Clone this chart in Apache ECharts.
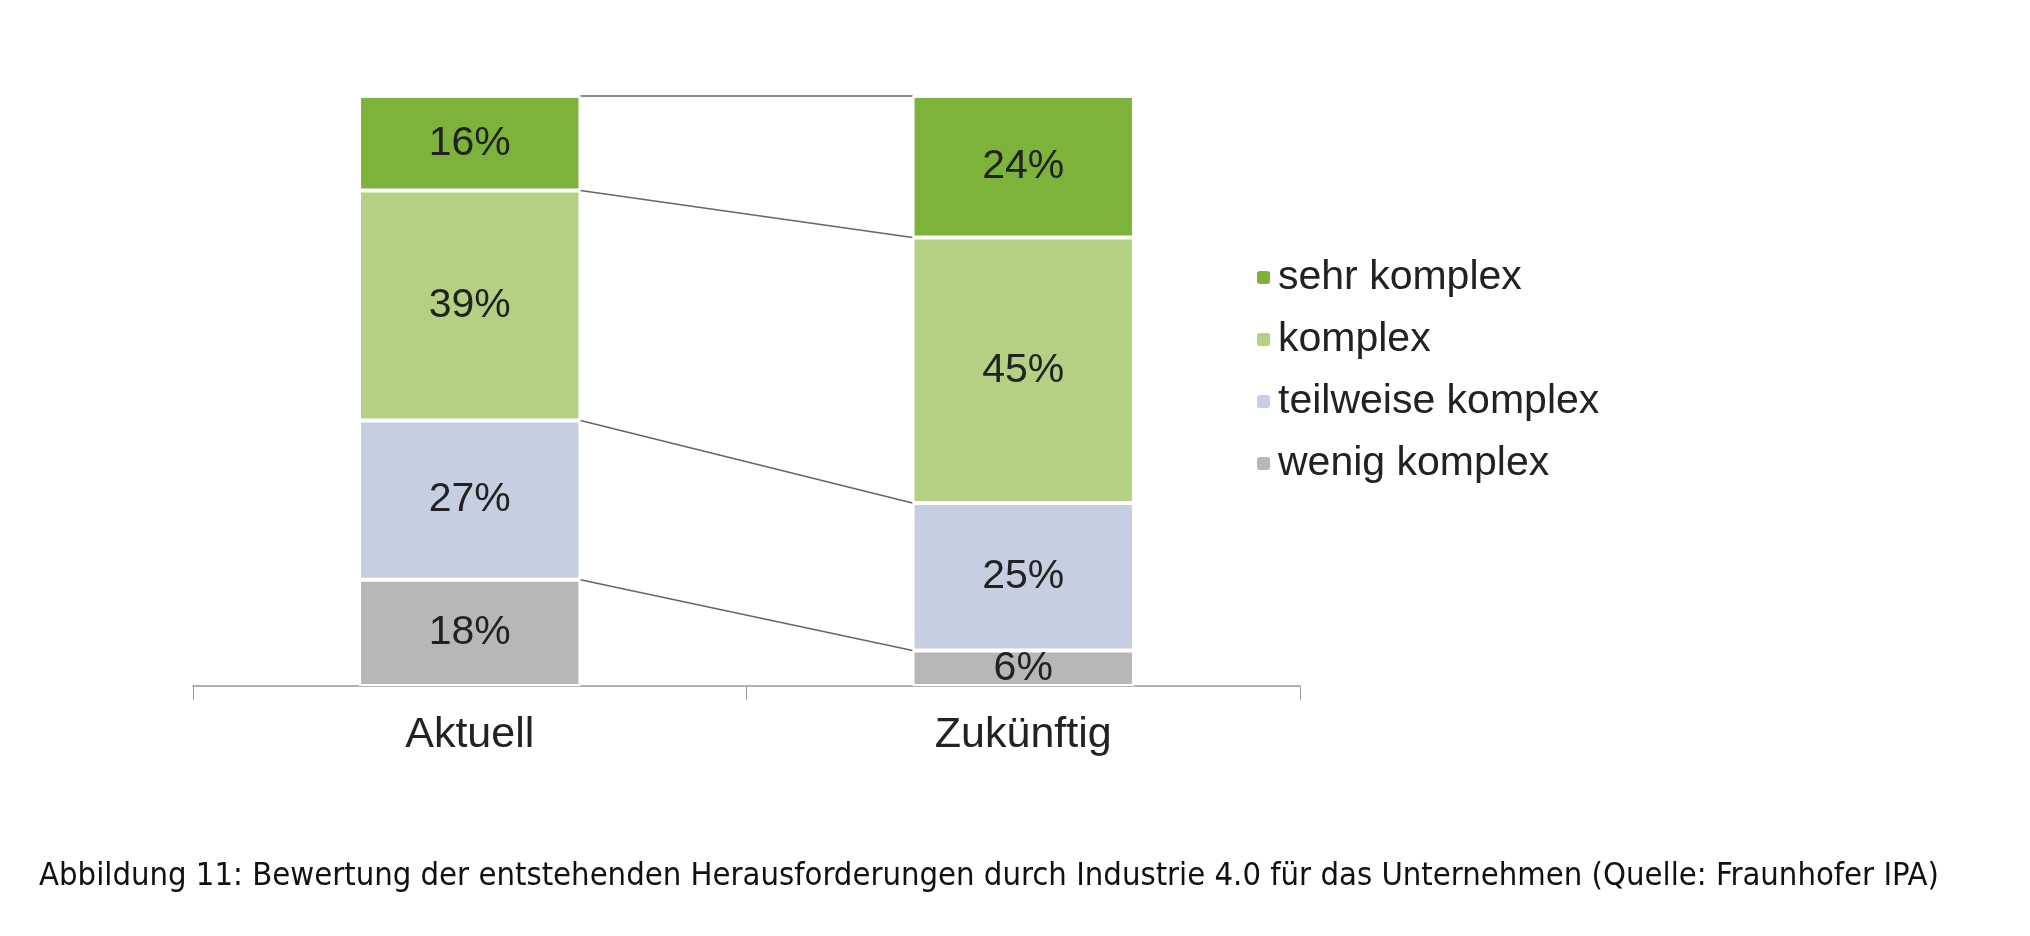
<!DOCTYPE html>
<html><head><meta charset="utf-8">
<script src="https://cdn.jsdelivr.net/npm/echarts@6/dist/echarts.min.js"></script>
<style>html,body{margin:0;background:#fff}#c{width:2030px;height:936px}</style>
</head><body><div id="c"></div>
<script>
const categories = ['Aktuell', 'Zukünftig'];
const seriesNames = ['wenig komplex', 'teilweise komplex', 'komplex', 'sehr komplex'];
const wenig = [18, 6];
const teilweise = [27, 25];
const komplex = [39, 45];
const sehr = [16, 24];
const colors = ['#b7b7b7', '#c6cfe2', '#b3d083', '#7db33b'];
const caption = 'Abbildung 11: Bewertung der entstehenden Herausforderungen durch Industrie 4.0 für das Unternehmen (Quelle: Fraunhofer IPA)';

const values = [wenig, teilweise, komplex, sehr];
const levels = [];
let c0 = 0, c1 = 0;
values.forEach(v => { c0 += v[0]; c1 += v[1]; levels.push([c0, c1]); });

const chart = echarts.init(document.getElementById('c'));
const barSeries = values.map((v, i) => ({
  name: seriesNames[i], type: 'bar', stack: 's', data: v, barWidth: '40%',
  itemStyle: { color: colors[i], borderColor: '#fff', borderWidth: 2 },
  label: { show: true, formatter: '{c}%', color: '#222', fontSize: 41, fontFamily: 'Liberation Sans' }
}));
chart.setOption({
  animation: false,
  legend: {
    orient: 'vertical', left: 1250, top: 252, itemWidth: 15, itemHeight: 15, itemGap: 21,
    data: seriesNames.slice().reverse(),
    textStyle: { fontSize: 41, fontFamily: 'Liberation Sans', color: '#222', padding: [0, 0, 0, 2] }
  },
  grid: { left: 193, right: 730, top: 96, bottom: 250 },
  xAxis: {
    type: 'category', data: categories,
    axisLine: { lineStyle: { color: '#999', width: 1.5 } },
    axisTick: { show: true, interval: 0, length: 14, lineStyle: { color: '#999' } },
    axisLabel: { fontSize: 43, fontFamily: 'Liberation Sans', color: '#222', margin: 28 }
  },
  yAxis: { type: 'value', min: 0, max: 100, show: false, splitLine: { show: false } },
  series: barSeries.concat([{
    type: 'custom', silent: true, z: 1,
    data: levels,
    renderItem: function (params, api) {
      const a = api.coord([0, api.value(0)]);
      const b = api.coord([1, api.value(1)]);
      const half = api.size([1, 0])[0] * 0.2;
      return { type: 'line', shape: { x1: a[0] + half, y1: a[1], x2: b[0] - half, y2: b[1] },
        style: { stroke: '#666', lineWidth: 1.5 } };
    }
  }]),
  graphic: [{ type: 'text', left: 39, top: 860,
    style: { text: caption, fontSize: 32.5, fontFamily: 'DejaVu Sans Condensed', fill: '#111' } }]
});
</script></body></html>
